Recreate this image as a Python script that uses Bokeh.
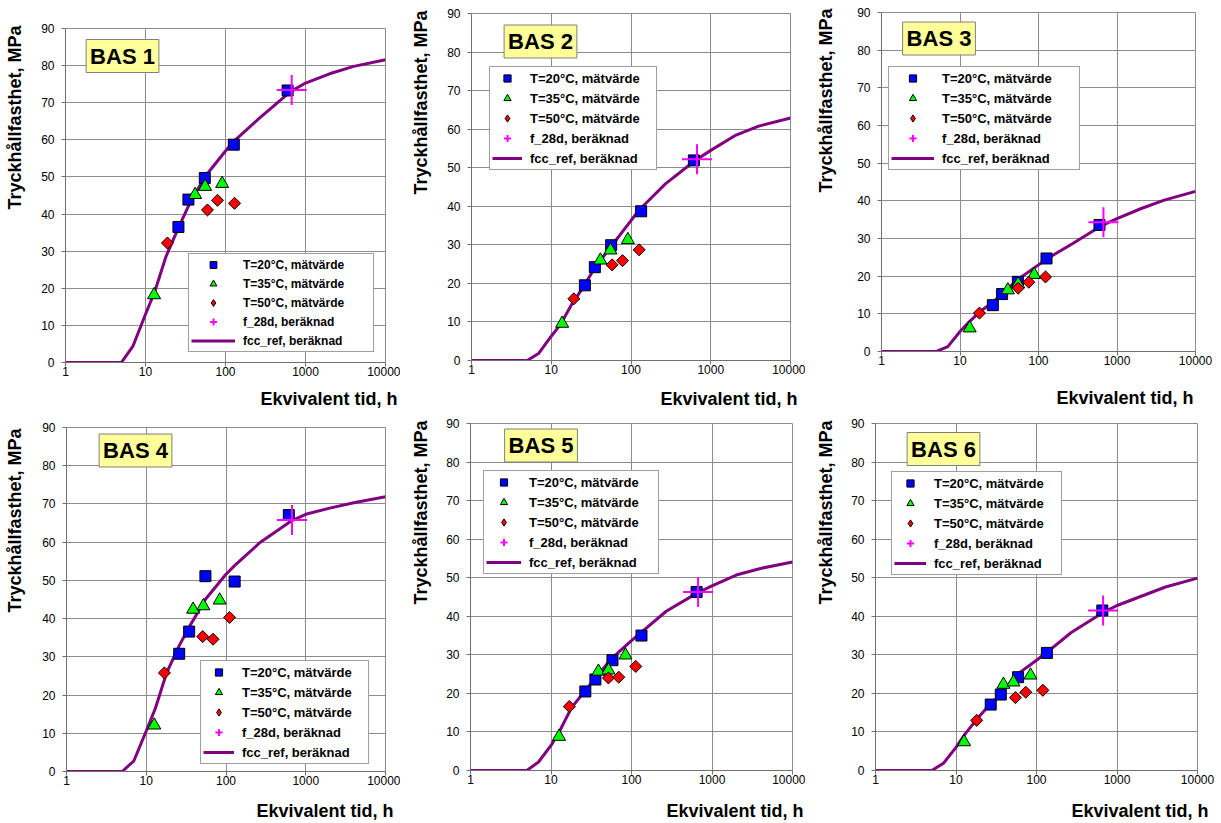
import math
from bokeh.plotting import figure
from bokeh.models import (Range1d, FixedTicker, Legend, LegendItem, Label, Title,
                          NumeralTickFormatter)
from bokeh.layouts import row, column
from bokeh.embed import file_html
from bokeh.resources import INLINE

FONT = "Liberation Sans"

# ---------------- data ----------------
X_TICKS = [1, 10, 100, 1000, 10000]
X_TICK_LABELS = ["1", "10", "100", "1000", "10000"]
Y_TICKS = [0, 10, 20, 30, 40, 50, 60, 70, 80, 90]

X_LABEL = "Ekvivalent tid, h"
Y_LABEL = "Tryckhållfasthet, MPa"
SERIES_NAMES = ["T=20°C, mätvärde", "T=35°C, mätvärde", "T=50°C, mätvärde",
                "f_28d, beräknad", "fcc_ref, beräknad"]
PANEL_TITLES = ["BAS 1", "BAS 2", "BAS 3", "BAS 4", "BAS 5", "BAS 6"]

CURVE_H = [1, 5, 7, 10, 13, 18, 26, 35, 55, 100, 130, 270, 650, 1000, 2000, 4000, 10000]
F28_H = 672

# BAS 1
BAS1_T20_H = [25.8, 34.4, 55.1, 127, 598]
BAS1_T20 = [36.5, 43.9, 49.7, 58.7, 73.3]
BAS1_T35_H = [12.8, 41.7, 55.6, 90.8]
BAS1_T35 = [18.2, 45.2, 47.4, 48.2]
BAS1_T50_H = [18.8, 59.5, 79.4, 129.7]
BAS1_T50 = [32.2, 41.1, 43.7, 42.9]
BAS1_F28 = 73.4
BAS1_CURVE = [0, 0, 4.5, 13, 19, 28.5, 36.5, 42.5, 50, 57, 59.8, 66, 73, 75.3, 77.8, 79.8, 81.6]

# BAS 2
BAS2_T20_H = [26.4, 35.2, 56.4, 134, 614]
BAS2_T20 = [19.5, 24.2, 29.9, 38.7, 51.9]
BAS2_T35_H = [13.7, 41.4, 55.3, 91.3]
BAS2_T35 = [9.6, 26.0, 28.6, 31.3]
BAS2_T50_H = [19.2, 58, 78.2, 126.6]
BAS2_T50 = [16.0, 24.8, 25.9, 28.7]
BAS2_F28 = 52.2
BAS2_CURVE = [0, 0, 1.9, 6.3, 9.3, 14.5, 19.5, 24, 29.3, 36.3, 39.3, 45.8, 52, 54.5, 58.3, 60.8, 62.9]

# BAS 3
BAS3_T20_H = [26.2, 34.4, 54.6, 126.5, 598]
BAS3_T20 = [12.3, 15.25, 18.5, 24.7, 33.6]
BAS3_T35_H = [13.3, 40.7, 55, 88]
BAS3_T35 = [6.2, 16.3, 17.9, 20.4]
BAS3_T50_H = [17.7, 55, 75.3, 122.8]
BAS3_T50 = [10.2, 16.8, 18.4, 19.8]
BAS3_F28 = 34.3
BAS3_CURVE = [0, 0, 1.3, 5.3, 7.8, 10.6, 13, 15.5, 19.2, 23, 24.7, 28.6, 33.5, 35.3, 37.9, 40.2, 42.5]

# BAS 4
BAS4_T20_H = [25.9, 34.5, 55.2, 128.4, 613]
BAS4_T20 = [30.8, 36.6, 51.1, 49.7, 67.1]
BAS4_T35_H = [12.6, 38.7, 52.1, 83.3]
BAS4_T35 = [12.1, 42.4, 43.3, 44.8]
BAS4_T50_H = [16.9, 51.1, 68.8, 111]
BAS4_T50 = [25.8, 35.3, 34.6, 40.3]
BAS4_F28 = 65.8
BAS4_CURVE = [0, 0, 2.8, 10.6, 16.5, 25.8, 33, 38, 45, 51.6, 54, 60, 65.5, 67.3, 68.9, 70.3, 71.9]

# BAS 5
BAS5_T20_H = [26.7, 35.6, 58, 133, 644]
BAS5_T20 = [20.5, 23.6, 28.6, 35.0, 46.3]
BAS5_T35_H = [12.6, 38.8, 51.7, 84.2]
BAS5_T35 = [8.8, 25.7, 26.0, 29.9]
BAS5_T50_H = [16.9, 51.7, 69.5, 113]
BAS5_T50 = [16.6, 24.0, 24.2, 27.0]
BAS5_F28 = 46.3
BAS5_CURVE = [0, 0, 2.2, 6.5, 10.5, 16.3, 20.5, 23.7, 28.8, 33.7, 35.7, 41.3, 46, 47.9, 50.7, 52.4, 54.1]

# BAS 6
BAS6_T20_H = [27, 36, 59.1, 134.5, 657]
BAS6_T20 = [17.1, 19.7, 24.2, 30.5, 41.5]
BAS6_T35_H = [12.6, 38.8, 51.7, 84.2]
BAS6_T35 = [7.4, 22.3, 22.9, 24.7]
BAS6_T50_H = [18.1, 54.8, 73.6, 120]
BAS6_T50 = [13.0, 18.9, 20.3, 20.8]
BAS6_F28 = 41.5
BAS6_CURVE = [0, 0, 1.9, 6, 9.5, 13.2, 17, 19.4, 24.6, 28.6, 30.4, 35.8, 40.8, 42.8, 45.2, 47.6, 49.9]

PANEL_DATA = [
    (BAS1_T20_H, BAS1_T20, BAS1_T35_H, BAS1_T35, BAS1_T50_H, BAS1_T50, BAS1_F28, BAS1_CURVE),
    (BAS2_T20_H, BAS2_T20, BAS2_T35_H, BAS2_T35, BAS2_T50_H, BAS2_T50, BAS2_F28, BAS2_CURVE),
    (BAS3_T20_H, BAS3_T20, BAS3_T35_H, BAS3_T35, BAS3_T50_H, BAS3_T50, BAS3_F28, BAS3_CURVE),
    (BAS4_T20_H, BAS4_T20, BAS4_T35_H, BAS4_T35, BAS4_T50_H, BAS4_T50, BAS4_F28, BAS4_CURVE),
    (BAS5_T20_H, BAS5_T20, BAS5_T35_H, BAS5_T35, BAS5_T50_H, BAS5_T50, BAS5_F28, BAS5_CURVE),
    (BAS6_T20_H, BAS6_T20, BAS6_T35_H, BAS6_T35, BAS6_T50_H, BAS6_T50, BAS6_F28, BAS6_CURVE),
]

# ---------------- layout / style ----------------
LAYOUT = [
    dict(w=400, h=410, l=65, r=15, t=28, b=48, leg=(123, 10), lfs=12, lgh=17, gw=44, lw=128,
         bas=(57, 306.5), ylx=45.5, yltop=3, xlr=12, xltop=31),
    dict(w=405, h=410, l=71, r=15, t=13, b=50, leg=(18, 190), lfs=13, lgh=18, gw=30, lw=124,
         bas=(69, 319), ylx=46, yltop=3, xlr=7, xltop=33),
    dict(w=416, h=410, l=76, r=26, t=12, b=59, leg=(7, 181), lfs=13, lgh=18, gw=43, lw=135,
         bas=(57.5, 313), ylx=51, yltop=4, xlr=-2, xltop=41),
    dict(w=400, h=413, l=66, r=15, t=17, b=52, leg=(134, 7), lfs=13, lgh=18, gw=31, lw=124,
         bas=(69, 321), ylx=47, yltop=-1, xlr=8, xltop=34),
    dict(w=405, h=413, l=70, r=13, t=13, b=53, leg=(13, 196), lfs=13, lgh=18, gw=35, lw=127,
         bas=(70.5, 325), ylx=45, yltop=3, xlr=11, xltop=35),
    dict(w=416, h=413, l=70, r=24, t=13, b=53, leg=(16, 195), lfs=13, lgh=18, gw=32, lw=125,
         bas=(68, 321.5), ylx=45, yltop=3, xlr=11, xltop=35),
]

GRID = "#8c8c8c"


def make_panel(title, data, lay):
    t20h, t20, t35h, t35, t50h, t50, f28, curve = data
    p = figure(width=lay["w"], height=lay["h"], x_axis_type="log",
               x_range=Range1d(1, 10000), y_range=Range1d(0, 90),
               output_backend="svg", toolbar_location=None, title=None,
               min_border_left=lay["l"], min_border_right=lay["r"],
               min_border_top=lay["t"], min_border_bottom=lay["b"])
    p.background_fill_color = "white"
    p.border_fill_color = "white"
    p.outline_line_color = GRID
    p.outline_line_width = 1

    p.xaxis.ticker = FixedTicker(ticks=X_TICKS)
    p.xaxis.formatter = NumeralTickFormatter(format="0")
    p.xaxis.major_label_overrides = {t: s for t, s in zip(X_TICKS, X_TICK_LABELS)}
    p.yaxis.ticker = FixedTicker(ticks=Y_TICKS)
    for ax in (p.xaxis, p.yaxis):
        ax.axis_line_color = "#707070"
        ax.major_tick_line_color = "#707070"
        ax.major_tick_in = 0
        ax.major_tick_out = 4
        ax.minor_tick_line_color = None
        ax.major_label_text_font = FONT
        ax.major_label_text_font_size = "12px"
        ax.major_label_text_color = "black"
        ax.axis_label = " "
        ax.axis_label_text_font_size = "1px"
    p.xaxis.major_label_standoff = 0
    p.yaxis.major_label_standoff = 7
    # spacers so that the outer titles land where the reference has them
    p.xaxis.axis_label_standoff = max(0, int(round(lay["xltop"] - 25)))
    p.yaxis.axis_label_standoff = max(0, int(round(lay["ylx"] - 37.6)))
    p.xgrid.grid_line_color = GRID
    p.ygrid.grid_line_color = GRID

    r_line = p.line(CURVE_H, curve, line_color="#800080", line_width=3)
    r20 = p.scatter(t20h, t20, marker="square", size=11, fill_color="#0000FF",
                    line_color="black", line_width=1)
    r35 = p.scatter(t35h, t35, marker="triangle", size=13, fill_color="#00FF00",
                    line_color="black", line_width=1)
    # narrow diamond used for the legend swatch; hidden under the rotated squares
    r50_leg = p.scatter(t50h, t50, marker="diamond", size=8, fill_color="#FF0000",
                        line_color="black", line_width=1)
    p.scatter(t50h, t50, marker="square", angle=math.pi / 4, size=8.5,
              fill_color="#FF0000", line_color="black", line_width=1)
    rf = p.scatter([F28_H], [f28], marker="cross", size=30, line_color="#FF00FF",
                   line_width=2)

    items = [LegendItem(label=SERIES_NAMES[0], renderers=[r20]),
             LegendItem(label=SERIES_NAMES[1], renderers=[r35]),
             LegendItem(label=SERIES_NAMES[2], renderers=[r50_leg]),
             LegendItem(label=SERIES_NAMES[3], renderers=[rf]),
             LegendItem(label=SERIES_NAMES[4], renderers=[r_line])]
    legend = Legend(items=items, location=lay["leg"], orientation="vertical",
                    label_text_font=FONT, label_text_font_size=f'{lay["lfs"]}px',
                    label_text_font_style="bold", label_text_color="black",
                    glyph_width=lay["gw"], glyph_height=lay["lgh"],
                    label_height=lay["lgh"], label_width=lay["lw"],
                    label_standoff=8, spacing=2, padding=2, margin=0,
                    border_line_color="#404040", border_line_width=1,
                    background_fill_color="white", background_fill_alpha=1.0)
    p.add_layout(legend)

    p.add_layout(Label(x=lay["bas"][0], y=lay["bas"][1], x_units="screen", y_units="screen",
                       text=title, text_align="center", text_baseline="middle",
                       text_font=FONT, text_font_size="22px", text_font_style="bold",
                       text_color="black", background_fill_color="#FFFF99",
                       border_line_color="#808080", border_line_width=1, padding=4))

    p.add_layout(Title(text=Y_LABEL, align="right", vertical_align="top", standoff=0,
                       offset=-lay["yltop"], text_font=FONT, text_font_size="18px",
                       text_font_style="bold", text_color="black"), "left")
    p.add_layout(Title(text=X_LABEL, align="right", vertical_align="top", standoff=0,
                       offset=-lay["xlr"], text_font=FONT, text_font_size="18px",
                       text_font_style="bold", text_color="black"), "below")
    return p


figs = [make_panel(PANEL_TITLES[i], PANEL_DATA[i], LAYOUT[i]) for i in range(6)]
wrapped = [column(f, spacing=0) for f in figs]
layout = column(row(wrapped[0], wrapped[1], wrapped[2], spacing=0),
                row(wrapped[3], wrapped[4], wrapped[5], spacing=0), spacing=0)

open("out.html", "w").write(file_html(layout, INLINE))
